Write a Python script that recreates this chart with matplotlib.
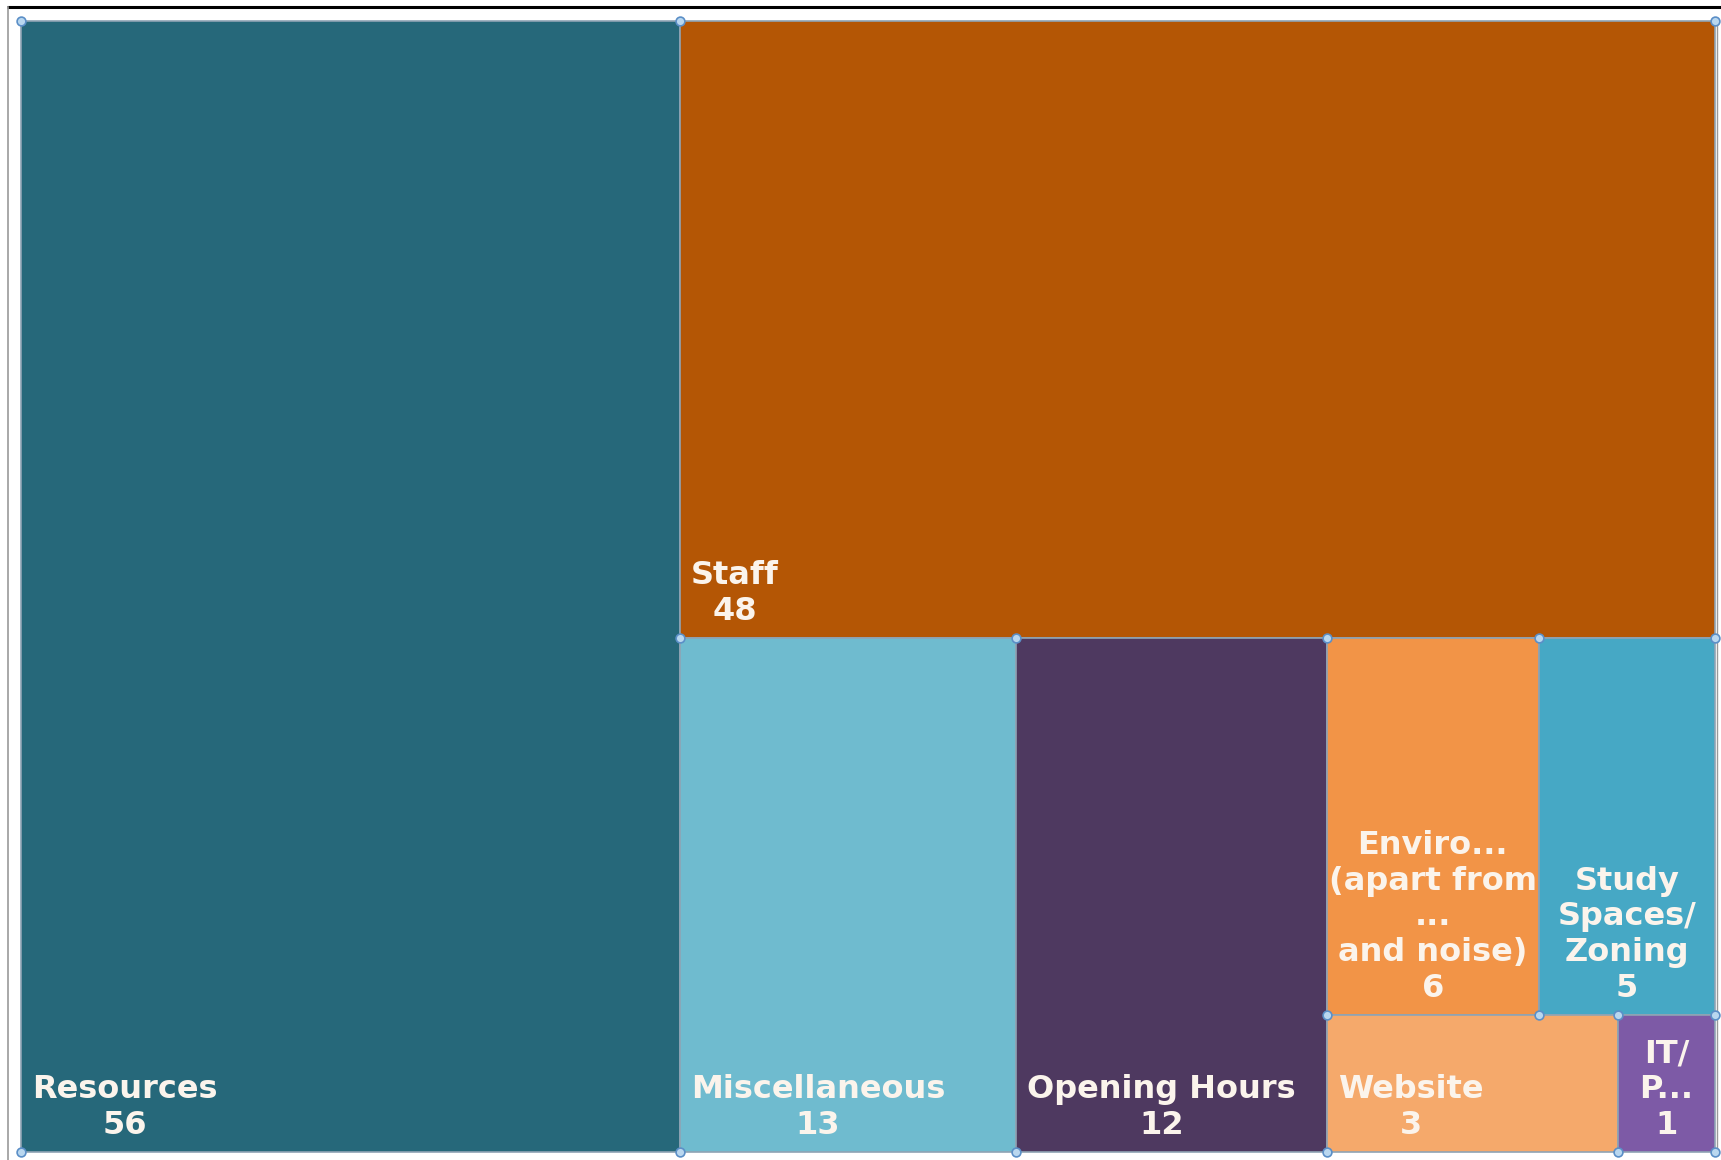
import matplotlib.pyplot as plt
from matplotlib.patches import Rectangle

# Survey comment categories and counts
categories = ['Resources', 'Staff', 'Miscellaneous', 'Opening Hours',
              'Enviro...\n(apart from\n...\nand noise)', 'Study\nSpaces/\nZoning',
              'Website', 'IT/\nP...']
counts = [56, 48, 13, 12, 6, 5, 3, 1]
colors = ['#26687a', '#b45605', '#6fbbcf', '#4e3960',
          '#f29447', '#46a8c5', '#f5a96b', '#7d5aa6']

plt.rcParams['font.family'] = ['DejaVu Sans']

# nesting of the tiles: (direction, children); leaves are indices into the lists
# 'h' = side by side, 'v' = stacked top to bottom
layout = ('h', [0,
                ('v', [1,
                       ('h', [2, 3,
                              ('v', [('h', [4, 5]),
                                     ('h', [6, 7])])])])])


def node_total(node):
    if isinstance(node, int):
        return counts[node]
    return sum(node_total(c) for c in node[1])


def place(node, x, y, w, h, out):
    # y is the top edge, growing downwards
    if isinstance(node, int):
        out[node] = (x, y, w, h)
        return
    direction, children = node
    total = node_total(node)
    pos = 0.0
    for c in children:
        frac = node_total(c) / total
        if direction == 'h':
            place(c, x + pos * w, y, w * frac, h, out)
        else:
            place(c, x, y + pos * h, w, h * frac, out)
        pos += frac


W, H = 1721, 1160
fig = plt.figure(figsize=(W / 100, H / 100), dpi=100)
ax = fig.add_axes([0, 0, 1, 1])
ax.set_xlim(0, W)
ax.set_ylim(H, 0)
ax.axis('off')

# outer frame lines
ax.plot([7, W], [7, 7], color='black', lw=2.2, solid_capstyle='butt')
ax.plot([7.5, 7.5], [7, H], color='#9a9a9a', lw=1.2)
ax.plot([1717, 1717], [20, 1153], color='#9a9a9a', lw=1.0)

x0, y0, x1, y1 = 21, 21, 1715, 1152
rects = {}
place(layout, x0, y0, x1 - x0, y1 - y0, rects)

corners = set()
for i in range(len(categories)):
    x, y, w, h = rects[i]
    ax.add_patch(Rectangle((x, y), w, h, facecolor=colors[i],
                           edgecolor='#8fa3b4', lw=1.2))
    label = f"{categories[i]}\n{counts[i]}"
    style = dict(va='bottom', multialignment='center', color='#fbf4ec',
                 fontsize=23, fontweight='bold', linespacing=1.2)
    if w > 250:
        ax.text(x + 11, y + h - 11, label, ha='left', **style)
    else:
        ax.text(x + w / 2, y + h - 11, label, ha='center', **style)
    for cx in (x, x + w):
        for cy in (y, y + h):
            corners.add((round(cx, 1), round(cy, 1)))

# selection handles on the tile corners
cx = [c[0] for c in corners]
cy = [c[1] for c in corners]
ax.scatter(cx, cy, s=40, facecolor='#b9d7ef', edgecolor='#5b8fc7',
           linewidths=1.2, zorder=5)

fig.savefig('out.png', dpi=100)
